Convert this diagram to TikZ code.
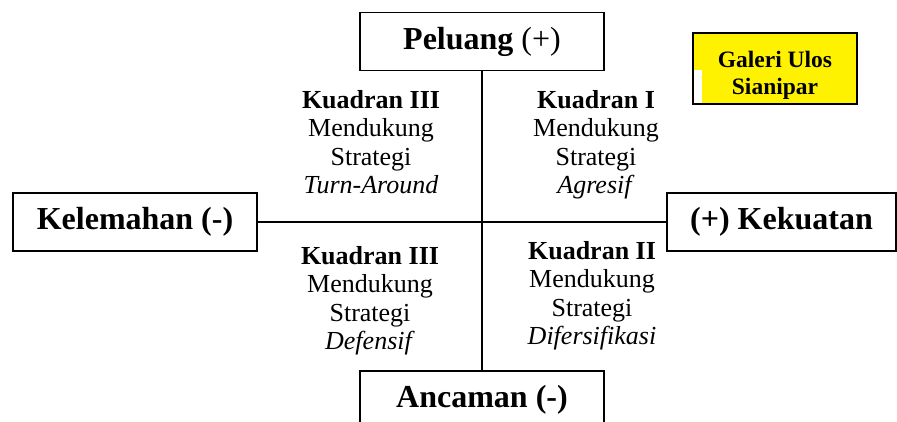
\documentclass[tikz,border=0pt]{standalone}
\usepackage{fontspec}
\setmainfont{Liberation Serif}
\usetikzlibrary{positioning}
\tikzset{
  axisbox/.style = {draw, line width=1.2pt, inner sep=0pt, minimum height=58pt, font=\fontsize{32}{38}\selectfont\bfseries},
  labelbox/.style = {draw, line width=1.2pt, fill=yellow, inner sep=0pt},
  labeltext/.style = {align=center, inner sep=0pt, anchor=north, font=\fontsize{23.5}{27}\selectfont\bfseries},
  quad/.style = {align=center, inner sep=0pt, anchor=north, font=\fontsize{26}{28.5}\selectfont},
  axis/.style = {line width=1.2pt},
}

\begin{document}
\begin{tikzpicture}[x=1pt,y=-1pt]
  \useasboundingbox (0,0) rectangle (897,421);
  \clip (0,0) rectangle (897,421);

  % ----------------------------------------------------------------------
  % Axis boxes
  % ----------------------------------------------------------------------
  \node[axisbox, minimum width=244pt] (peluang) at (482,41.5) {Peluang \textmd{(+)}};
  \node[axisbox, minimum width=244pt] (ancaman) at (482,400) {Ancaman (-)};
  \node[axisbox, minimum width=244pt] (kelemahan) at (135,222) {Kelemahan (-)};
  \node[axisbox, minimum width=229pt] (kekuatan) at (781.5,222) {(+) Kekuatan};

  % Axes
  \draw[axis] (peluang.south) -- (ancaman.north);
  \draw[axis] (kelemahan.east) -- (kekuatan.west);

  % Label box (with the white patch at its lower left)
  \node[labelbox, minimum width=164pt, minimum height=71pt] (galeri) at (775,68.5) {};
  \fill[white] (694,70) rectangle (702,103);
  \node[labeltext] (galeriText) at (775,50.5) {Galeri Ulos\\Sianipar};

  % ----------------------------------------------------------------------
  % Quadrants
  % ----------------------------------------------------------------------
  \node[quad] (kuadranTL) at (371,90) {\textbf{Kuadran III}\\Mendukung\\Strategi\\\textit{Turn-Around}};
  \node[quad] (kuadranTR) at (596,90) {\textbf{Kuadran I}\\Mendukung\\Strategi\\\textit{Agresif}};
  \node[quad] (kuadranBL) at (370,246) {\textbf{Kuadran III}\\Mendukung\\Strategi\\\textit{Defensif}};
  \node[quad] (kuadranBR) at (592,241) {\textbf{Kuadran II}\\Mendukung\\Strategi\\\textit{Difersifikasi}};
\end{tikzpicture}
\end{document}
